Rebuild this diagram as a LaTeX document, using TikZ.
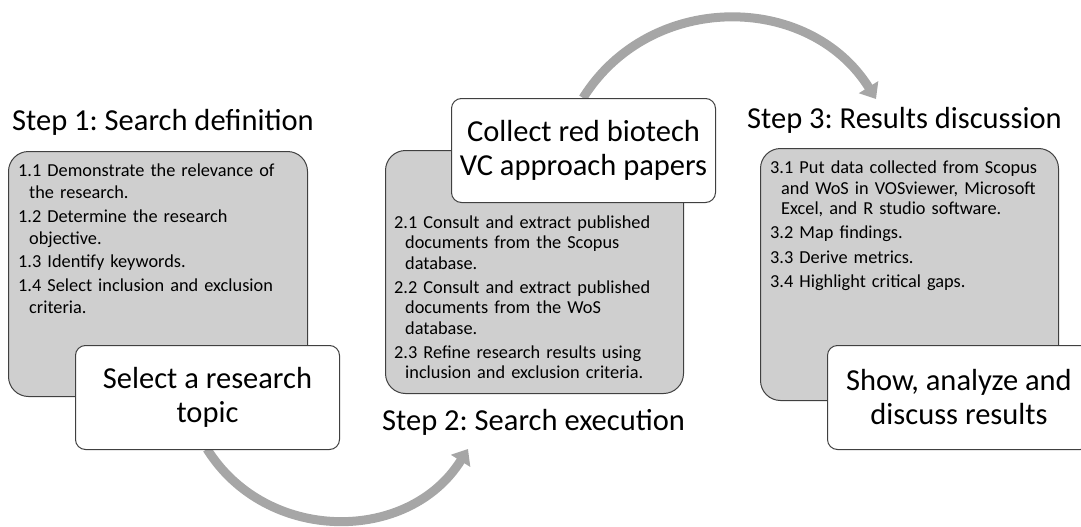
\documentclass[tikz,border=0pt]{standalone}
\usepackage{fontspec}
\setmainfont{Carlito}
\usetikzlibrary{arrows.meta}
\definecolor{panelgrey}{HTML}{CFCFCF}
\definecolor{edgegrey}{HTML}{404040}
\definecolor{flowgrey}{HTML}{A6A6A6}
\frenchspacing
% one numbered item with a hanging indent for its continuation lines
\newcommand\stepitem[1]{\par\hangindent=11pt\hangafter=1\noindent #1\par}
\begin{document}
\begin{tikzpicture}[x=1pt,y=1pt,
  panel/.style={draw=edgegrey, line width=1pt, fill=panelgrey,
    rounded corners=20pt, anchor=north west, inner sep=0pt},
  card/.style={draw=edgegrey, line width=1pt, fill=white,
    rounded corners=10pt, anchor=north west, inner sep=0pt,
    minimum width=264pt, minimum height=104pt, align=center,
    font=\fontsize{30.5}{34}\selectfont},
  steptitle/.style={anchor=base west, inner sep=0pt,
    font=\fontsize{30.5}{34}\selectfont},
  itemlist/.style={anchor=north west, inner sep=0pt, text width=320pt,
    font=\fontsize{18.3}{22}\selectfont},
  flow/.style={draw=flowgrey, line width=9pt,
    -{Triangle[length=14pt,width=22pt]}}
]
\useasboundingbox (0,0) rectangle (1081,-527);

% grey panels with the sub-steps
\node[panel, minimum width=299pt, minimum height=245pt] (p1) at (8,-151) {};
\node[panel, minimum width=298pt, minimum height=243pt] (p2) at (385,-150) {};
\node[panel, minimum width=298pt, minimum height=252pt] (p3) at (760,-148) {};

\node[itemlist] (l1) at (18,-153) {\raggedright\setlength\parskip{1.5pt}%
  \stepitem{1.1 Demonstrate the relevance of\newline the research.}
  \stepitem{1.2 Determine the research\newline objective.}
  \stepitem{1.3 Identify keywords.}
  \stepitem{1.4 Select inclusion and exclusion\newline criteria.}};

\node[itemlist] (l2) at (394,-204) {\raggedright\fontsize{18.3}{20.5}\selectfont\setlength\parskip{3.5pt}%
  \stepitem{2.1 Consult and extract published\newline documents from the Scopus\newline database.}
  \stepitem{2.2 Consult and extract published\newline documents from the WoS\newline database.}
  \stepitem{2.3 Refine research results using\newline inclusion and exclusion criteria.}};

\node[itemlist] (l3) at (770,-149) {\raggedright\fontsize{18.3}{20.5}\selectfont\setlength\parskip{3.8pt}%
  \stepitem{3.1 Put data collected from Scopus\newline and WoS in VOSviewer, Microsoft\newline Excel, and R studio software.}
  \stepitem{3.2 Map findings.}
  \stepitem{3.3 Derive metrics.}
  \stepitem{3.4 Highlight critical gaps.}};

% step titles
\node[steptitle] (s1) at (12,-130) {Step 1: Search definition};
\node[steptitle] (s2) at (382,-430) {Step 2: Search execution};
\node[steptitle] (s3) at (747,-128) {Step 3: Results discussion};

% arrow ends
\coordinate (t2) at (468,-449);
\coordinate (t3) at (876,-99);

% the arrows start behind the white cards, so they come first
\coordinate (c1s) at (207,-449);
\coordinate (c2n) at (583,-98);
\draw[flow] (c1s) to[out=-58,in=-122,looseness=1.1] (t2);
\draw[flow] (c2n) to[out=58,in=122,looseness=1.1] (t3);

\node[card] (c1) at (75,-345) {Select a research\\topic};
\node[card] (c2) at (451,-98) {Collect red biotech\\VC approach papers};
\node[card, minimum width=263pt] (c3) at (827,-345) {Show, analyze and\\discuss results};
\end{tikzpicture}
\end{document}
